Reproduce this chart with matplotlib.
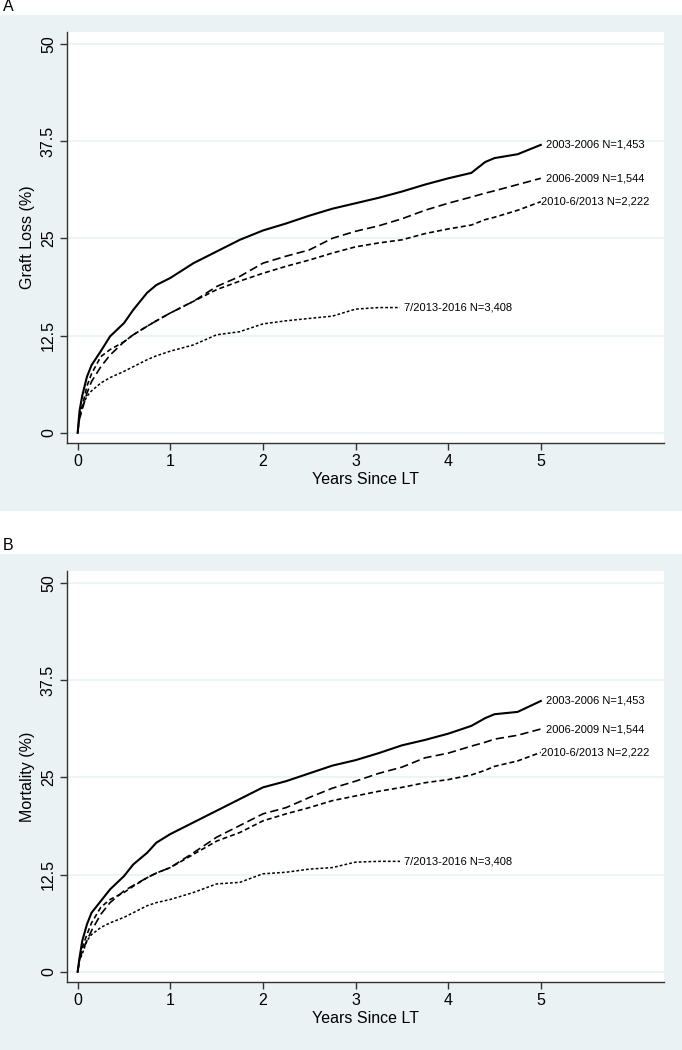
import matplotlib
matplotlib.use("Agg")
import matplotlib.pyplot as plt
from matplotlib.patches import Rectangle

plt.rcParams['font.family'] = ['Liberation Sans', 'DejaVu Sans']
plt.rcParams['lines.scale_dashes'] = False

# ---------------- data ----------------
t_full = [0, 0.02, 0.05, 0.1, 0.15, 0.25, 0.35, 0.5, 0.6, 0.75, 0.85, 1.0, 1.25, 1.5,
          1.75, 2.0, 2.25, 2.5, 2.75, 3.0, 3.25, 3.5, 3.75, 4.0, 4.25, 4.4, 4.5, 4.75, 5.0]
t_short = [0, 0.02, 0.05, 0.1, 0.15, 0.25, 0.35, 0.5, 0.6, 0.75, 0.85, 1.0, 1.25, 1.5,
           1.75, 2.0, 2.25, 2.5, 2.75, 3.0, 3.25, 3.48]

series_names = ["2003-2006 N=1,453", "2006-2009 N=1,544",
                "2010-6/2013 N=2,222", "7/2013-2016 N=3,408"]

# Panel A: graft loss (%)
graft_2003 = [0, 2.8, 4.8, 7.2, 8.7, 10.5, 12.4, 14.1, 15.8, 18.0, 19.0, 19.9, 21.8, 23.3,
              24.8, 26.0, 26.9, 27.9, 28.8, 29.5, 30.2, 31.0, 31.9, 32.7, 33.4, 34.8, 35.3, 35.8, 37.0]
graft_2006 = [0, 1.8, 3.0, 5.1, 6.6, 8.5, 10.0, 11.7, 12.6, 13.7, 14.4, 15.4, 16.9, 18.8,
              20.1, 21.8, 22.7, 23.5, 25.0, 25.9, 26.6, 27.5, 28.6, 29.5, 30.3, 30.8, 31.1, 31.9, 32.7]
graft_2010 = [0, 2.2, 3.4, 6.0, 7.6, 9.8, 10.7, 11.7, 12.6, 13.7, 14.4, 15.4, 16.9, 18.4,
              19.5, 20.5, 21.4, 22.2, 23.1, 23.9, 24.4, 24.8, 25.6, 26.2, 26.7, 27.4, 27.7, 28.6, 29.7]
graft_2013 = [0, 2.3, 3.4, 4.7, 5.4, 6.4, 7.1, 7.9, 8.5, 9.4, 9.9, 10.5, 11.3, 12.6,
              13.0, 14.0, 14.4, 14.7, 15.0, 15.9, 16.1, 16.1]

# Panel B: mortality (%)
mort_2003 = [0, 1.8, 4.0, 6.1, 7.6, 9.1, 10.6, 12.3, 13.8, 15.3, 16.6, 17.7, 19.2, 20.7,
             22.2, 23.7, 24.5, 25.5, 26.5, 27.2, 28.1, 29.1, 29.8, 30.6, 31.6, 32.6, 33.1, 33.4, 34.8]
mort_2006 = [0, 1.5, 2.7, 4.0, 5.3, 7.4, 8.9, 10.4, 11.1, 12.1, 12.7, 13.4, 15.3, 17.3,
             18.8, 20.3, 21.1, 22.4, 23.6, 24.5, 25.5, 26.3, 27.5, 28.1, 29.0, 29.5, 29.9, 30.4, 31.2]
mort_2010 = [0, 1.8, 3.1, 4.8, 6.3, 8.3, 9.3, 10.2, 11.0, 12.1, 12.7, 13.4, 15.1, 16.8,
             17.9, 19.4, 20.3, 21.1, 22.0, 22.6, 23.2, 23.7, 24.3, 24.7, 25.3, 25.9, 26.4, 27.1, 28.2]
mort_2013 = [0, 1.5, 2.3, 4.0, 4.8, 5.7, 6.3, 7.0, 7.6, 8.5, 8.9, 9.3, 10.2, 11.3,
             11.5, 12.6, 12.8, 13.2, 13.4, 14.1, 14.2, 14.2]

y_ticks = [0, 12.5, 25, 37.5, 50]
y_ticklabels = ["0", "12.5", "25", "37.5", "50"]
x_ticks = [0, 1, 2, 3, 4, 5]

# ---------------- styling ----------------
W, H = 682, 1050
BG = '#eaf2f3'
styles = [
    dict(color='black', lw=1.5, linestyle='-'),
    dict(color='black', lw=1.2, linestyle=(0, (6.0, 3.0))),
    dict(color='black', lw=1.2, linestyle=(0, (3.6, 2.2))),
    dict(color='black', lw=1.1, linestyle=(0, (2.0, 1.5))),
]
label_dx = [0.06, 0.06, 0.0, 0.04]

fig = plt.figure(figsize=(W / 100, H / 100), dpi=100)
fig.patch.set_facecolor('white')

def px_rect(x0, y0, x1, y1):
    return [x0 / W, 1 - y1 / H, (x1 - x0) / W, (y1 - y0) / H]

# panel backgrounds (drawn in a background axes below everything)
bg_ax = fig.add_axes([0, 0, 1, 1], zorder=-10)
bg_ax.set_xlim(0, W)
bg_ax.set_ylim(H, 0)
bg_ax.axis('off')
for (y0, y1) in [(15, 511), (554, 1050)]:
    bg_ax.add_patch(Rectangle((0, y0), W, y1 - y0, facecolor=BG, edgecolor='none'))

fig.text(3 / W, 1 - 11 / H, "A", fontsize=11.5, ha='left', va='baseline')
fig.text(3 / W, 1 - 550 / H, "B", fontsize=11.5, ha='left', va='baseline')

panels = [
    (px_rect(67, 32, 664, 443), "Graft Loss (%)",
     [graft_2003, graft_2006, graft_2010, graft_2013]),
    (px_rect(67, 571, 664, 982), "Mortality (%)",
     [mort_2003, mort_2006, mort_2010, mort_2013]),
]

for rect, ylabel, data in panels:
    ax = fig.add_axes(rect, zorder=1)
    ax.set_facecolor('white')
    ax.set_xlim(-0.115, 6.33)
    ax.set_ylim(-1.3, 51.5)
    for yv in y_ticks:
        ax.axhline(yv, color=BG, lw=1.2, zorder=1)
    times = [t_full, t_full, t_full, t_short]
    for i, (tt, vals) in enumerate(zip(times, data)):
        ax.plot(tt, vals, zorder=3, **styles[i])
        ax.text(tt[-1] + label_dx[i], vals[-1], series_names[i], fontsize=8,
                ha='left', va='center', zorder=4)
    for s in ['top', 'right']:
        ax.spines[s].set_visible(False)
    for s in ['left', 'bottom']:
        ax.spines[s].set_color('#333333')
        ax.spines[s].set_linewidth(1.0)
    ax.set_xticks(x_ticks)
    ax.set_xticklabels([str(v) for v in x_ticks])
    ax.set_yticks(y_ticks)
    ax.set_yticklabels(y_ticklabels, rotation=90, va='center')
    ax.tick_params(axis='both', direction='out', length=5, width=1.0,
                   color='#333333', labelsize=11.5, pad=3)
    ax.set_xlabel("Years Since LT", fontsize=11.5, labelpad=2)
    ax.set_ylabel(ylabel, fontsize=11.5, labelpad=4)

fig.savefig("out.png", dpi=100, facecolor='white')
